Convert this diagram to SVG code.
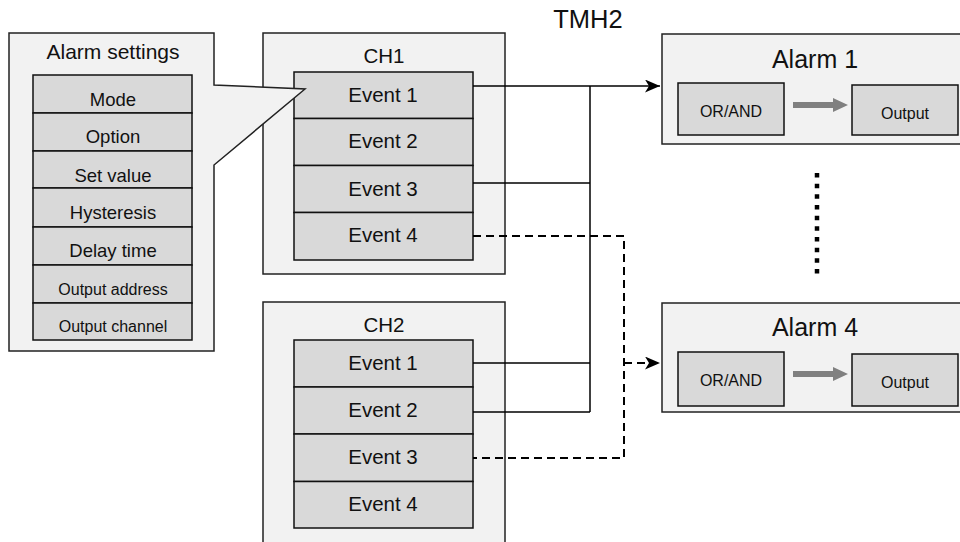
<svg xmlns="http://www.w3.org/2000/svg" width="960" height="542" viewBox="0 0 960 542">
<defs>
<style>
text{font-family:"Liberation Sans",Arial,sans-serif;fill:#111;text-anchor:middle}
.outer{fill:#f2f2f2;stroke:#222;stroke-width:1.5}
.cell{fill:#d9d9d9;stroke:#111;stroke-width:1.5}
.ev{font-size:20.5px}
.set{font-size:18.5px}
.small{font-size:16px}
.title{font-size:25px}
.box{font-size:16px}
.conn{fill:none;stroke:#000;stroke-width:1.5}
.dash{fill:none;stroke:#000;stroke-width:2;stroke-dasharray:8 5}
.garrow{fill:#808080}
</style>
<marker id="ah" markerUnits="userSpaceOnUse" markerWidth="16" markerHeight="13" refX="15" refY="6.5" orient="auto">
<path d="M0,0 L15,6.5 L0,13 L4,6.5 z" fill="#000"/>
</marker>
</defs>
<rect width="960" height="542" fill="#fff"/>
<text x="588" y="28" style="font-size:25.5px">TMH2</text>

<g id="ch1">
<rect class="outer" x="263" y="33" width="242" height="241"/>
<text x="384" y="63" class="ev">CH1</text>
<rect class="cell" x="294" y="72" width="179" height="46.5"/>
<rect class="cell" x="294" y="118.5" width="179" height="47"/>
<rect class="cell" x="294" y="165.5" width="179" height="47"/>
<rect class="cell" x="294" y="212.5" width="179" height="47.5"/>
<text x="383" y="102" class="ev">Event 1</text>
<text x="383" y="148" class="ev">Event 2</text>
<text x="383" y="196" class="ev">Event 3</text>
<text x="383" y="242" class="ev">Event 4</text>
</g>

<g id="ch2">
<rect class="outer" x="263" y="302" width="242" height="250"/>
<text x="384" y="332" class="ev">CH2</text>
<rect class="cell" x="294" y="340" width="179" height="47"/>
<rect class="cell" x="294" y="387" width="179" height="47"/>
<rect class="cell" x="294" y="434" width="179" height="47.5"/>
<rect class="cell" x="294" y="481.5" width="179" height="46.5"/>
<text x="383" y="370" class="ev">Event 1</text>
<text x="383" y="417" class="ev">Event 2</text>
<text x="383" y="464" class="ev">Event 3</text>
<text x="383" y="511" class="ev">Event 4</text>
</g>

<g id="alarm-settings">
<polygon class="outer" points="9,33 214,33 214,85 305,89 214,165 214,351 9,351"/>
<text x="113" y="59" style="font-size:21px">Alarm settings</text>
<rect class="cell" x="33" y="75" width="159" height="38"/>
<rect class="cell" x="33" y="113" width="159" height="38"/>
<rect class="cell" x="33" y="151" width="159" height="37"/>
<rect class="cell" x="33" y="188" width="159" height="39"/>
<rect class="cell" x="33" y="227" width="159" height="38"/>
<rect class="cell" x="33" y="265" width="159" height="38"/>
<rect class="cell" x="33" y="303" width="159" height="37"/>
<text x="113" y="106" class="set">Mode</text>
<text x="113" y="143" class="set">Option</text>
<text x="113" y="182" class="set">Set value</text>
<text x="113" y="219" class="set">Hysteresis</text>
<text x="113" y="257" class="set">Delay time</text>
<text x="113" y="295" class="small">Output address</text>
<text x="113" y="332" class="small">Output channel</text>
</g>

<g id="alarm1">
<rect class="outer" x="662" y="34" width="310" height="110"/>
<text x="815" y="68" class="title">Alarm 1</text>
<rect class="cell" x="678" y="83" width="106" height="52"/>
<text x="731" y="117" class="box">OR/AND</text>
<polygon class="garrow" points="793,102 833,102 833,98 848,105 833,112 833,108 793,108"/>
<rect class="cell" x="852" y="85" width="106" height="50"/>
<text x="905" y="119" class="box">Output</text>
</g>

<g id="alarm4">
<rect class="outer" x="662" y="303" width="310" height="109"/>
<text x="815" y="336" class="title">Alarm 4</text>
<rect class="cell" x="678" y="352" width="106" height="54"/>
<text x="731" y="386" class="box">OR/AND</text>
<polygon class="garrow" points="793,371 833,371 833,367 848,374 833,381 833,377 793,377"/>
<rect class="cell" x="852" y="354" width="106" height="52"/>
<text x="905" y="388" class="box">Output</text>
</g>

<g id="ellipsis">
<line x1="817" y1="173" x2="817" y2="274" stroke="#000" stroke-width="4.5" stroke-dasharray="4.5 6.17"/>
</g>

<g id="connectors">
<path class="conn" d="M473,86 H660" stroke-width="2" marker-end="url(#ah)"/>
<path class="conn" d="M590,86 V412"/>
<path class="conn" d="M473,183 H590"/>
<path class="conn" d="M473,363 H590"/>
<path class="conn" d="M473,412 H590"/>
<path class="dash" d="M473,236 H624 V458 H473"/>
<path class="dash" d="M624,363 H660" marker-end="url(#ah)" stroke-dasharray="none"/>
</g>
</svg>
